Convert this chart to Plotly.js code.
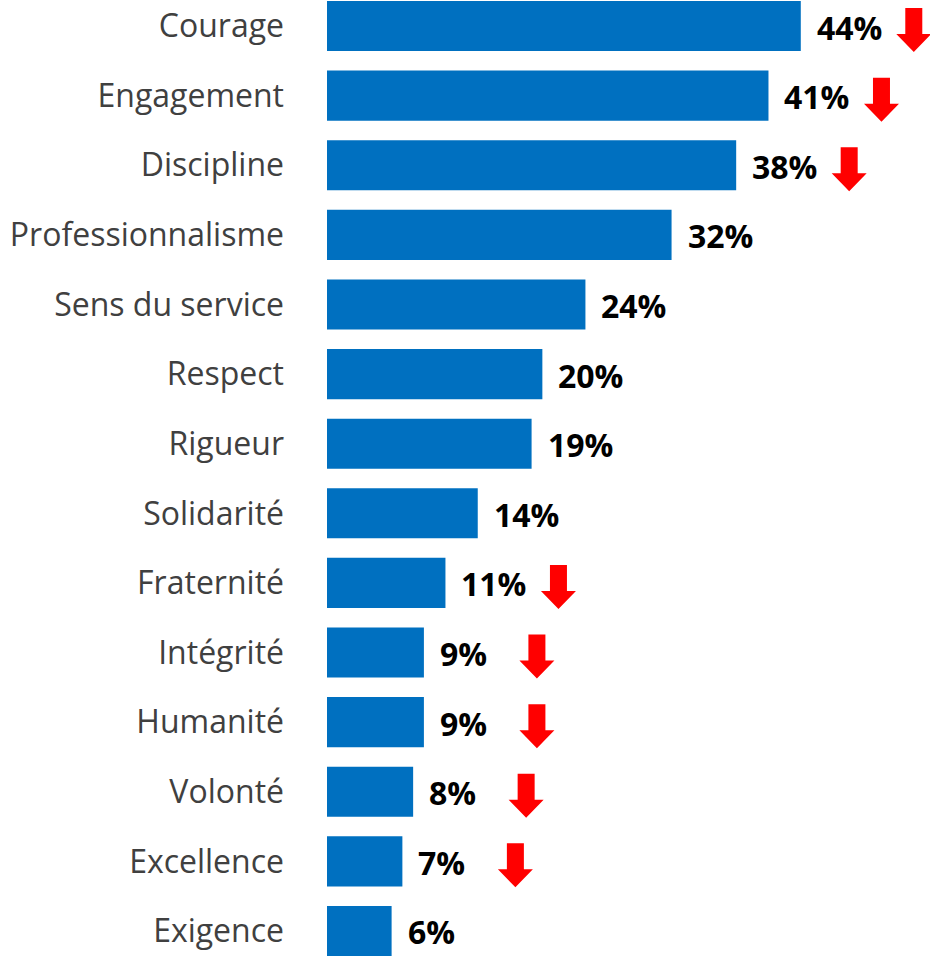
<!DOCTYPE html>
<html>
<head>
<meta charset="utf-8">
<script src="https://cdn.plot.ly/plotly-3.0.1.min.js"></script>
<style>html,body{margin:0;padding:0;background:#fff;}#chart{width:930px;height:957px;}</style>
</head>
<body>
<div id="chart"></div>
<script>
const categories = ["Courage","Engagement","Discipline","Professionnalisme","Sens du service","Respect","Rigueur","Solidarité","Fraternité","Intégrité","Humanité","Volonté","Excellence","Exigence"];
const values = [44, 41, 38, 32, 24, 20, 19, 14, 11, 9, 9, 8, 7, 6];
const valueLabels = ["44%","41%","38%","32%","24%","20%","19%","14%","11%","9%","9%","8%","7%","6%"];
const trendDown = [true, true, true, false, false, false, false, false, true, true, true, true, true, false];

const FONT = "Open Sans, Noto Sans, sans-serif";

const trace = {
  type: "bar",
  orientation: "h",
  x: values,
  y: categories,
  width: 0.72,
  marker: {color: "#0070C0"},
  hoverinfo: "skip"
};

const annotations = categories.map((c, i) => ({
  x: values[i], y: c, xref: "x", yref: "y",
  text: valueLabels[i], showarrow: false,
  xanchor: "left", yanchor: "middle", xshift: 14, yshift: -1,
  font: {family: FONT, size: 32, color: "#000000", weight: 700}
}));

const arrowPath = (dx, dy) => {
  const pts = [[-8.5,22],[8.5,22],[8.5,-4],[17.5,-4],[0,-22],[-17.5,-4],[-8.5,-4]];
  return "M" + pts.map(p => (p[0]+dx) + "," + (p[1]+dy)).join(" L") + " Z";
};

const shapes = [];
categories.forEach((c, i) => {
  if (!trendDown[i]) return;
  shapes.push({
    type: "path", xref: "x", yref: "y",
    xsizemode: "pixel", ysizemode: "pixel",
    xanchor: values[i], yanchor: c,
    path: arrowPath(113, -4),
    fillcolor: "#FF0000", line: {width: 0}
  });
});

const layout = {
  width: 930, height: 957,
  margin: {l: 327, r: 0, t: 0, b: 0, pad: 0},
  paper_bgcolor: "#ffffff", plot_bgcolor: "#ffffff",
  showlegend: false,
  xaxis: {range: [0, 56], visible: false, fixedrange: true},
  yaxis: {
    type: "category", range: [13.374, -0.374],
    showgrid: false, zeroline: false, showline: false, ticks: "",
    ticklabelstandoff: 42,
    tickfont: {family: FONT, size: 32, color: "#404040"},
    fixedrange: true
  },
  annotations: annotations,
  shapes: shapes
};

Plotly.newPlot("chart", [trace], layout, {displayModeBar: false, staticPlot: true});
</script>
</body>
</html>
